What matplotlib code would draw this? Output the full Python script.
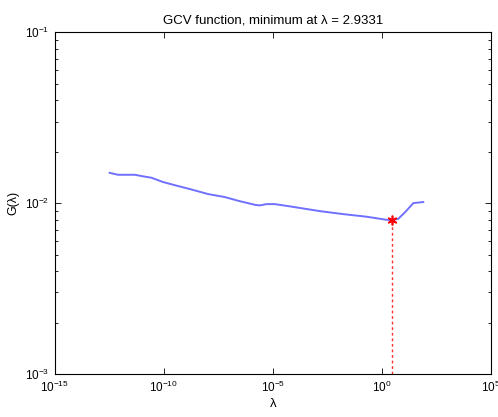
import matplotlib
matplotlib.use('Agg')
import matplotlib.pyplot as plt
import numpy as np
from matplotlib.ticker import NullLocator

# data
lam = [3.3e-13, 7.9e-13, 4.7e-12, 9.5e-12, 2.75e-11, 9.3e-11, 3.8e-10, 1.55e-9,
       1.07e-8, 6.3e-8, 2.6e-7, 1.48e-6, 2.5e-6, 5.1e-6, 1.23e-5, 5.0e-5,
       7.1e-4, 1.45e-3, 1.66e-2, 0.2, 1.66, 2.9331, 5.6, 11.5, 27.5, 78.0]
G = [0.01503, 0.01464, 0.01464, 0.01439, 0.01406, 0.01327, 0.01265, 0.01208,
     0.01129, 0.01084, 0.01031, 0.00977, 0.00969, 0.00986, 0.00986, 0.00960,
     0.00910, 0.00897, 0.00862, 0.00832, 0.00798, 0.00795, 0.00809, 0.00885,
     0.01000, 0.01014]
lam_min = 2.9331
G_min = 0.00795

plt.rcParams['font.family'] = ['Liberation Sans', 'DejaVu Sans']
plt.rcParams['mathtext.fontset'] = 'custom'
plt.rcParams['mathtext.rm'] = 'Liberation Sans'
plt.rcParams['mathtext.it'] = 'Liberation Sans'
plt.rcParams['font.size'] = 8.5

fig = plt.figure(figsize=(4.98, 4.17), dpi=100)
ax = fig.add_axes([0.110, 0.103, 0.876, 0.820])

ax.loglog(lam, G, color='#7070ff', lw=1.4)
ax.plot([lam_min, lam_min], [1e-3, G_min], color='#ff3030', ls=(0, (2, 2)), lw=1)
ax.plot(lam_min, G_min, marker=(6, 2, 0), color='red', ms=7, mew=1.2, ls='none')

ax.set_xlim(1e-15, 1e5)
ax.set_ylim(1e-3, 1e-1)
ax.set_xticks([1e-15, 1e-10, 1e-5, 1e0, 1e5])
ax.xaxis.set_minor_locator(NullLocator())
ax.tick_params(which='both', direction='in', top=True, right=True)
ax.tick_params(which='major', length=4, width=0.6, pad=4)
ax.tick_params(which='minor', length=2, width=0.6)
for s in ax.spines.values():
    s.set_linewidth(0.8)

ax.set_title('GCV function, minimum at λ = 2.9331', fontsize=9.5, pad=6)
ax.set_xlabel('λ', fontsize=9.5, labelpad=2)
ax.set_ylabel('G(λ)', fontsize=9)

fig.savefig('out.png', dpi=100)
